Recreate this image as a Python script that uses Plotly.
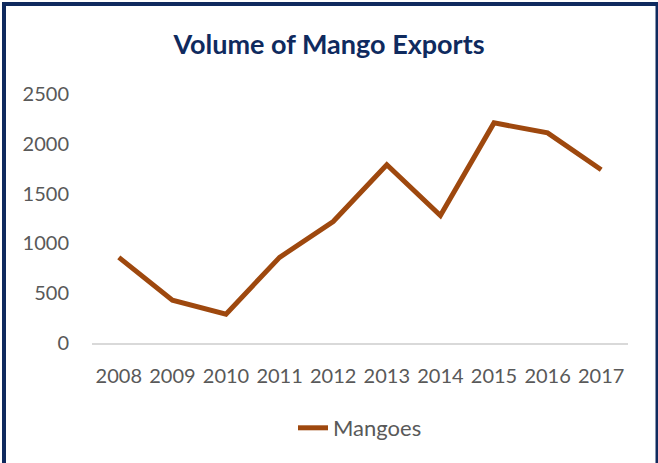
import plotly.graph_objects as go

years = ["2008", "2009", "2010", "2011", "2012", "2013", "2014", "2015", "2016", "2017"]
mangoes = [860, 430, 290, 860, 1220, 1790, 1280, 2210, 2110, 1740]
y_ticks = [0, 500, 1000, 1500, 2000, 2500]

W, H = 658, 463
L, R, T, B = 92, 30, 94, 120
pw, ph = W - L - R, H - T - B

fig = go.Figure()
fig.add_trace(go.Scatter(
    x=years, y=mangoes, mode="lines", name="Mangoes",
    line=dict(color="#9E480E", width=5),
))

fig.update_layout(
    width=W, height=H,
    margin=dict(l=L, r=R, t=T, b=B),
    paper_bgcolor="white", plot_bgcolor="white",
    font=dict(family="Lato, Open Sans, sans-serif", size=20, color="#595959"),
    title=dict(text="<b>Volume of Mango Exports</b>", x=0.5, xanchor="center",
               y=1 - 45 / H, yanchor="middle",
               font=dict(family="Lato, Open Sans, sans-serif", size=27, color="#0F2A5E")),
    showlegend=True,
    legend=dict(orientation="h", x=0.5, xanchor="center", y=(343 - 428) / ph, yanchor="middle",
                font=dict(size=22, color="#595959")),
    xaxis=dict(type="category", range=[-0.5, 9.5], showgrid=False, showline=True,
               linecolor="#D9D9D9", linewidth=1.5, ticks="", ticklabelstandoff=14,
               tickfont=dict(size=20, color="#595959"), zeroline=False, fixedrange=True),
    yaxis=dict(range=[0, 2500], tickvals=y_ticks, showgrid=False, showline=False, zeroline=False,
               ticks="", tickfont=dict(size=20, color="#595959"), ticklabelstandoff=22),
    shapes=[dict(type="rect", xref="paper", yref="paper",
                 x0=(4 - L) / pw, x1=(657.5 - L) / pw,
                 y0=(343 - 475) / ph, y1=(343 - 4) / ph,
                 line=dict(color="#0F2A5E", width=4), fillcolor="rgba(0,0,0,0)", layer="above")],
)

fig.write_html("out.html", config={"displayModeBar": False},
               post_script="document.body.style.margin='0';")
